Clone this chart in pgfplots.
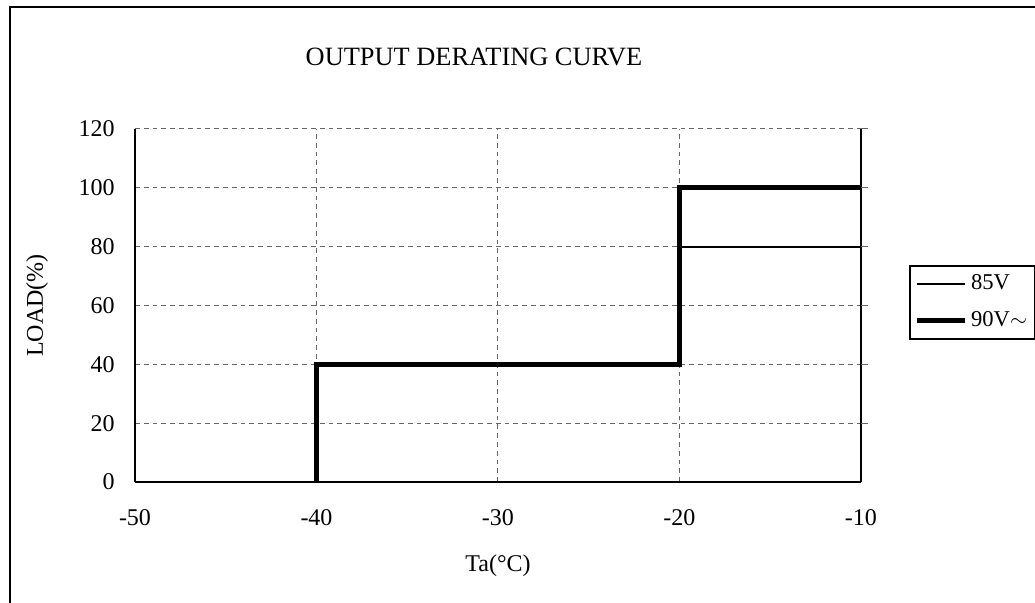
\documentclass[border=0pt]{standalone}
\usepackage{pgfplots}
\pgfplotsset{compat=1.18}
\usepackage{fontspec}
\setmainfont{Liberation Serif}
\begin{document}
\fontsize{12}{14}\selectfont
\begin{tikzpicture}
\useasboundingbox (0,0) rectangle (517.5pt,301.5pt);
\draw[line width=1.1pt] (5pt,-10pt) -- (5pt,298pt) -- (540pt,298pt);
\begin{axis}[
  at={(67.5pt,60.5pt)}, anchor=south west,
  scale only axis, width=363pt, height=176.5pt,
  xmin=-50, xmax=-10, ymin=0, ymax=120,
  xtick={-50,-40,-30,-20,-10},
  xticklabels={-50,-40,-30,-20,-10},
  ytick={0,20,40,60,80,100,120},
  yticklabels={0,20,40,60,80,100,120},
  major tick length=0pt,
  axis x line*=bottom, axis y line*=left,
  axis line style={black, line width=0.8pt},
  x axis line style={-}, y axis line style={-},
  grid=major,
  major grid style={black!60, dash pattern=on 2.4pt off 2pt, line width=0.5pt},
  xticklabel style={anchor=center, yshift=-18pt, inner sep=0pt},
  yticklabel style={anchor=east, xshift=-10pt, inner sep=0pt},
  xlabel={Ta(°C)},
  xlabel style={at={(rel axis cs:0.5,0)}, anchor=center, yshift=-42pt},
  ylabel={LOAD(\%)},
  ylabel style={at={(rel axis cs:0,0.5)}, anchor=center, yshift=49pt},
  title={OUTPUT DERATING CURVE},
  title style={at={(rel axis cs:0.467,1.204)}, anchor=center, inner sep=0pt, yshift=-6pt, font=\fontsize{13.2}{15}\selectfont},
  legend style={at={(rel axis cs:1.066,0.615)}, anchor=north west,
    draw=black, line width=1pt, inner xsep=2pt, inner ysep=2.5pt,
    row sep=5pt, font=\fontsize{11.3}{14}\selectfont,
    cells={anchor=west}},
  legend image code/.code={\draw[#1] (0pt,0pt) -- (24pt,0pt);},
  legend cell align=left,
  clip=false,
]
\draw[black, line width=0.8pt] (rel axis cs:1,0) -- (rel axis cs:1,1);
\foreach \yy in {20,40,60,80,100,120}{
  \edef\temp{\noexpand\draw[black!60, line width=0.5pt] (axis cs:-10,\yy) -- ([xshift=3.5pt]axis cs:-10,\yy);}
  \temp
}
\addplot[black, line width=1pt] coordinates {(-40,0) (-40,40) (-20,40) (-20,80) (-10,80)};
\addlegendentry{85V}
\addplot[black, line width=2.6pt] coordinates {(-40,0) (-40,40) (-20,40) (-20,100) (-10,100)};
\addlegendentry{90V$\sim$}
\end{axis}
\end{tikzpicture}
\end{document}
